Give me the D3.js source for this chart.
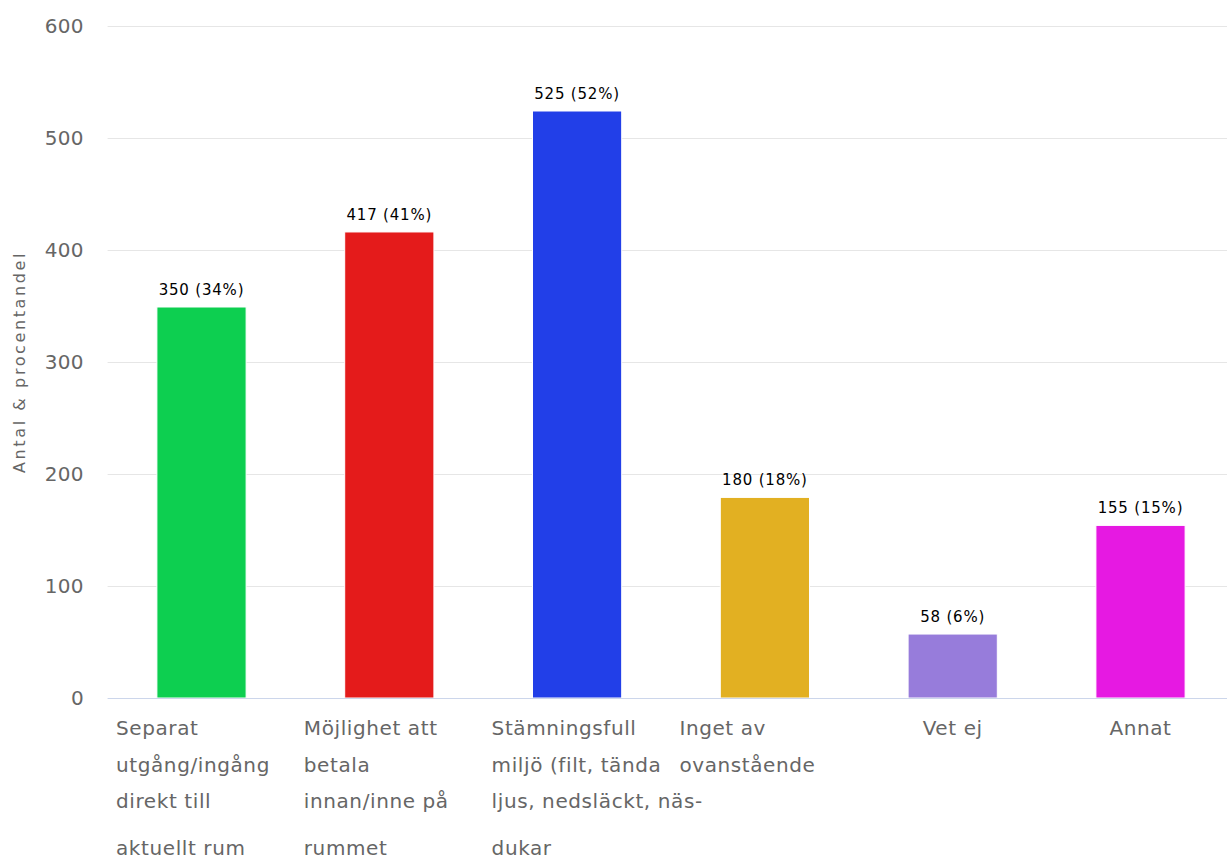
<!DOCTYPE html>
<html><head><meta charset="utf-8">
<script src="https://cdn.jsdelivr.net/npm/d3@7"></script>
<style>body{margin:0;background:#fff;} svg{display:block;}</style>
</head><body>
<svg id="c" width="1227" height="859"></svg>
<script>
const categories = ["Separat utgång/ingång direkt till aktuellt rum","Möjlighet att betala innan/inne på rummet","Stämningsfull miljö (filt, tända ljus, nedsläckt, näsdukar","Inget av ovanstående","Vet ej","Annat"];
const categoryLines = [
  ["Separat","utgång/ingång","direkt till","aktuellt rum"],
  ["Möjlighet att","betala","innan/inne på","rummet"],
  ["Stämningsfull","miljö (filt, tända","ljus, nedsläckt, näs-","dukar"],
  ["Inget av","ovanstående"],
  ["Vet ej"],
  ["Annat"]
];
const counts = [350,417,525,180,58,155];
const percents = [34,41,52,18,6,15];
const colors = ["#0dcf50","#e41b1b","#223fe8","#e2b022","#977cdb","#e619e2"];
const yTicks = [0,100,200,300,400,500,600];
const yTitle = "Antal & procentandel";

const svg = d3.select("#c");
const left = 107.6, right = 1234.4, y0 = 698, yTop = 26;
const x = d3.scaleBand().domain(categories).range([left,right]).paddingInner(0.525).paddingOuter(0.2625);
const y = d3.scaleLinear().domain([0,600]).range([y0,yTop]);
const font = "'DejaVu Sans', Verdana, sans-serif";

// gridlines
svg.append("g").selectAll("line").data(yTicks.filter(d=>d>0)).join("line")
  .attr("x1",left).attr("x2",1227).attr("y1",d=>y(d)+0.5).attr("y2",d=>y(d)+0.5)
  .attr("stroke","#e6e6e6").attr("stroke-width",1);
// tick labels
svg.append("g").selectAll("text").data(yTicks).join("text")
  .attr("x",84).attr("y",d=>y(d)+7).attr("text-anchor","end")
  .attr("font-family",font).attr("font-size",20).attr("letter-spacing",0.4).attr("fill","#666")
  .text(d=>d);
// y title
svg.append("text").attr("transform","translate(25,362) rotate(-90)")
  .attr("text-anchor","middle").attr("font-family",font).attr("font-size",16)
  .attr("letter-spacing",2.6).attr("fill","#666").text(yTitle);

// bars
svg.append("g").selectAll("rect").data(categories).join("rect")
  .attr("x",d=>x(d)).attr("width",x.bandwidth())
  .attr("y",(d,i)=>y(counts[i])+1).attr("height",(d,i)=>y0-y(counts[i])-1)
  .attr("fill",(d,i)=>colors[i]).attr("stroke","#fff").attr("stroke-width",1);

// baseline
svg.append("line").attr("x1",left).attr("x2",1227).attr("y1",y0+0.5).attr("y2",y0+0.5)
  .attr("stroke","#ccd6eb").attr("stroke-width",1);

// value labels
svg.append("g").selectAll("text").data(categories).join("text")
  .attr("x",d=>x(d)+x.bandwidth()/2).attr("y",(d,i)=>y(counts[i])-11)
  .attr("text-anchor","middle").attr("font-family",font).attr("font-size",15)
  .attr("letter-spacing",0.8).attr("fill","#000").text((d,i)=>`${counts[i]} (${percents[i]}%)`);

// category labels
const lineY = [735,772,808,855];
const halfWrap = 85.5;
categories.forEach((c,i)=>{
  const g = svg.append("g");
  const cx = x(c)+x.bandwidth()/2;
  const multi = categoryLines[i].length > 1;
  categoryLines[i].forEach((ln,j)=>g.append("text").attr("y",lineY[j])
    .attr("x", multi ? cx-halfWrap : cx)
    .attr("text-anchor", multi ? "start" : "middle")
    .attr("font-family",font).attr("font-size",20).attr("letter-spacing",0.6)
    .attr("fill","#666").text(ln));
});
</script>
</body></html>
